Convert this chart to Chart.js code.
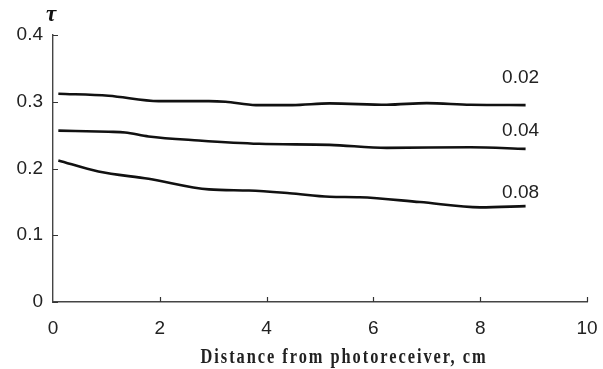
<!DOCTYPE html>
<html>
<head>
<meta charset="utf-8">
<script src="https://cdn.jsdelivr.net/npm/chart.js@4/dist/chart.umd.min.js"></script>
<style>
  html, body { margin: 0; padding: 0; background: #fff; }
  #wrap { width: 603px; height: 369px; position: relative; }
</style>
</head>
<body>
<div id="wrap"><canvas id="c" width="603" height="369"></canvas></div>
<script>
// ---- data ----
const distance002 = [0.1, 1.04, 1.98, 2.92, 3.23, 3.8, 4.48, 5.18, 6.25, 7.0, 7.82, 8.85];
const tau002      = [0.312, 0.309, 0.301, 0.301, 0.300, 0.295, 0.295, 0.2975, 0.2955, 0.298, 0.2955, 0.295];
const distance004 = [0.1, 1.04, 1.35, 1.79, 2.73, 3.86, 5.18, 6.25, 7.82, 8.85];
const tau004      = [0.2567, 0.255, 0.254, 0.248, 0.242, 0.237, 0.2354, 0.2309, 0.2318, 0.2294];
const distance008 = [0.1, 0.85, 1.79, 2.92, 3.67, 4.43, 5.18, 5.74, 6.87, 8.0, 8.85];
const tau008      = [0.212, 0.1955, 0.1846, 0.1687, 0.167, 0.163, 0.1577, 0.157, 0.1497, 0.1418, 0.1437];
const seriesLabels = ['0.02', '0.04', '0.08'];
const xTicks = [0, 2, 4, 6, 8, 10];
const yTicks = [0, 0.1, 0.2, 0.3, 0.4];
const xTitle = 'Distance from photoreceiver, cm';
const yTitle = 'τ';

function pts(xs, ys) { return xs.map((x, i) => ({ x: x, y: ys[i] })); }

const labelOffsets = [[-5, -27], [-5, -18], [-5, -13]];

const decor = {
  id: 'decor',
  afterDraw(chart) {
    const ctx = chart.ctx;
    const xs = chart.scales.x, ys = chart.scales.y;
    ctx.save();
    // inward ticks
    ctx.strokeStyle = '#333';
    ctx.lineWidth = 1.2;
    ctx.beginPath();
    xTicks.forEach(v => {
      if (v === 0) return;
      const px = Math.round(xs.getPixelForValue(v)) + 0.5;
      ctx.moveTo(px, ys.bottom);
      ctx.lineTo(px, ys.bottom - 5);
    });
    yTicks.forEach(v => {
      const py = Math.round(ys.getPixelForValue(v)) + 0.5;
      ctx.moveTo(xs.left, py);
      ctx.lineTo(xs.left + 5, py);
    });
    ctx.stroke();
    // series labels
    ctx.fillStyle = '#222';
    ctx.font = '19px "Liberation Sans", Arial, sans-serif';
    ctx.textAlign = 'center';
    ctx.textBaseline = 'middle';
    chart.data.datasets.forEach((ds, i) => {
      const last = ds.data[ds.data.length - 1];
      const px = xs.getPixelForValue(last.x) + labelOffsets[i][0];
      const py = ys.getPixelForValue(last.y) + labelOffsets[i][1];
      ctx.fillText(seriesLabels[i], px, py);
    });
    // y title (tau)
    ctx.font = 'italic bold 23px "Liberation Serif", "DejaVu Serif", serif';
    ctx.fillStyle = '#111';
    ctx.fillText(yTitle, 51, 15);
    // x title (condensed, letter-spaced)
    ctx.font = 'bold 20px "Liberation Serif", "DejaVu Serif", serif';
    ctx.letterSpacing = '2.4px';
    ctx.fillStyle = '#222';
    ctx.textBaseline = 'alphabetic';
    const w = ctx.measureText(xTitle).width;
    const k = 287 / w;
    ctx.translate(344, 363);
    ctx.scale(k, 1);
    ctx.fillText(xTitle, 0, 0);
    ctx.restore();
  }
};

const lineStyle = {
  borderColor: '#111',
  borderWidth: 2.6,
  pointRadius: 0,
  fill: false,
  tension: 0.4,
  cubicInterpolationMode: 'monotone'
};

new Chart(document.getElementById('c'), {
  type: 'line',
  data: {
    datasets: [
      Object.assign({ label: seriesLabels[0], data: pts(distance002, tau002) }, lineStyle),
      Object.assign({ label: seriesLabels[1], data: pts(distance004, tau004) }, lineStyle),
      Object.assign({ label: seriesLabels[2], data: pts(distance008, tau008) }, lineStyle)
    ]
  },
  options: {
    responsive: false,
    animation: false,
    layout: { padding: { top: 35, right: 16, left: 0, bottom: 0 } },
    plugins: { legend: { display: false }, tooltip: { enabled: false } },
    scales: {
      x: {
        type: 'linear',
        min: 0, max: 10,
        afterBuildTicks: s => { s.ticks = xTicks.map(v => ({ value: v })); },
        afterFit: s => { s.height = 67; s.paddingRight = 0; },
        grid: { display: true, drawOnChartArea: false, drawTicks: false },
        border: { display: true, color: '#444', width: 1.4 },
        ticks: { color: '#222', padding: 15, maxRotation: 0,
          font: { family: '"Liberation Sans", Arial, sans-serif', size: 19 } }
      },
      y: {
        type: 'linear',
        min: 0, max: 0.4,
        afterBuildTicks: s => { s.ticks = yTicks.map(v => ({ value: v })); },
        afterFit: s => { s.width = 53; },
        grid: { display: true, drawOnChartArea: false, drawTicks: false },
        border: { display: true, color: '#444', width: 1.4 },
        ticks: { color: '#222', padding: 10,
          callback: v => String(v),
          font: { family: '"Liberation Sans", Arial, sans-serif', size: 19 } }
      }
    }
  },
  plugins: [decor]
});
</script>
</body>
</html>
